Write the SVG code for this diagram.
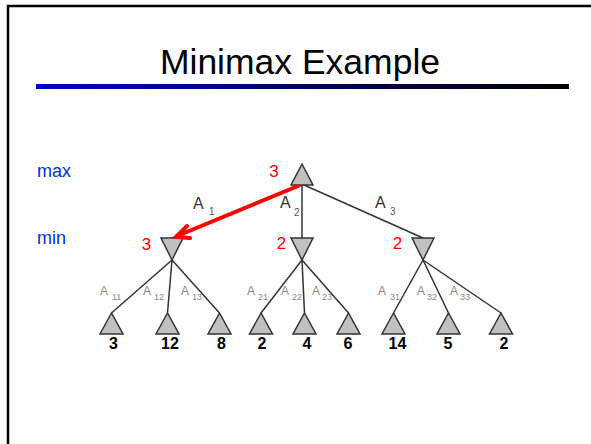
<svg xmlns="http://www.w3.org/2000/svg" width="591" height="444" viewBox="0 0 591 444">
<style>
.tri{fill:#c0c0c0;stroke:#333;stroke-width:1.5;stroke-linejoin:miter}
.edge{stroke:#333;stroke-width:1.5;fill:none}
.lvl{font-family:"Liberation Sans",Arial,sans-serif;font-size:18px;fill:#0033cc}
.red{font-family:"Liberation Sans",Arial,sans-serif;font-size:17px;fill:#ff0000;text-anchor:middle}
.val{font-family:"Liberation Sans",Arial,sans-serif;font-size:16px;font-weight:bold;fill:#000;text-anchor:middle}
.a1{font-family:"Liberation Sans",Arial,sans-serif;font-size:16px;fill:#333}
.s1{font-family:"Liberation Sans",Arial,sans-serif;font-size:10px;fill:#555}
.a2{font-family:"Liberation Sans",Arial,sans-serif;font-size:12px;fill:#888}
.s2{font-family:"Liberation Sans",Arial,sans-serif;font-size:9px;fill:#888}
</style>
<defs>
<linearGradient id="bar" x1="0" y1="0" x2="1" y2="0">
<stop offset="0" stop-color="#0000cc"/>
<stop offset="1" stop-color="#000000"/>
</linearGradient>
</defs>
<rect x="0" y="0" width="591" height="444" fill="#ffffff"/>
<rect x="8" y="6" width="620" height="460" fill="none" stroke="#000" stroke-width="2.5"/>
<text x="300" y="74" font-family="'Liberation Sans',Arial,sans-serif" font-size="35.5" text-anchor="middle" fill="#000">Minimax Example</text>
<rect x="36" y="84" width="533" height="5" fill="url(#bar)"/>
<text class="lvl" x="37" y="177">max</text>
<text class="lvl" x="37" y="244">min</text>
<g id="connectors">
<line class="edge" x1="302" y1="185" x2="172" y2="238"/>
<line class="edge" x1="302" y1="185" x2="302" y2="238"/>
<line class="edge" x1="304" y1="185" x2="423" y2="238"/>
<line class="edge" x1="172" y1="260" x2="111.5" y2="313"/>
<line class="edge" x1="172" y1="260" x2="167.5" y2="313"/>
<line class="edge" x1="172" y1="260" x2="219.5" y2="313"/>
<line class="edge" x1="302" y1="260" x2="261" y2="313"/>
<line class="edge" x1="302" y1="260" x2="304.5" y2="313"/>
<line class="edge" x1="302" y1="260" x2="348.5" y2="313"/>
<line class="edge" x1="423" y1="260" x2="393.5" y2="313"/>
<line class="edge" x1="423" y1="260" x2="448.5" y2="313"/>
<line class="edge" x1="423" y1="260" x2="501" y2="313"/>
</g>
<g id="root"><polygon class="tri" points="302,164 291,185 313,185"/></g>
<g id="min1"><polygon class="tri" points="161,238 183,238 172,260"/></g>
<g id="min2"><polygon class="tri" points="291,238 313,238 302,260"/></g>
<g id="min3"><polygon class="tri" points="412,238 434,238 423,260"/></g>
<g id="leaf1"><polygon class="tri" points="111.5,313 100,334 123,334"/><text class="val" x="113.5" y="349">3</text></g>
<g id="leaf2"><polygon class="tri" points="167.5,313 156,334 179,334"/><text class="val" x="170" y="349">12</text></g>
<g id="leaf3"><polygon class="tri" points="219.5,313 208,334 231,334"/><text class="val" x="221.5" y="349">8</text></g>
<g id="leaf4"><polygon class="tri" points="261,313 249.5,334 272.5,334"/><text class="val" x="262" y="349">2</text></g>
<g id="leaf5"><polygon class="tri" points="304.5,313 293,334 316,334"/><text class="val" x="307" y="349">4</text></g>
<g id="leaf6"><polygon class="tri" points="348.5,313 337,334 360,334"/><text class="val" x="348" y="349">6</text></g>
<g id="leaf7"><polygon class="tri" points="393.5,313 382,334 405,334"/><text class="val" x="397.5" y="349">14</text></g>
<g id="leaf8"><polygon class="tri" points="448.5,313 437,334 460,334"/><text class="val" x="448" y="349">5</text></g>
<g id="leaf9"><polygon class="tri" points="501,313 489.5,334 512.5,334"/><text class="val" x="504" y="349">2</text></g>
<g id="edge-labels">
<text class="a1" x="193" y="209">A</text><text class="s1" x="209" y="215">1</text>
<text class="a1" x="280" y="208">A</text><text class="s1" x="294" y="216">2</text>
<text class="a1" x="375" y="208">A</text><text class="s1" x="390" y="215">3</text>
<text class="a2" x="100" y="295">A</text><text class="s2" x="112" y="300">11</text>
<text class="a2" x="143" y="295">A</text><text class="s2" x="154" y="300">12</text>
<text class="a2" x="181" y="295">A</text><text class="s2" x="192" y="300">13</text>
<text class="a2" x="247" y="295">A</text><text class="s2" x="258" y="300">21</text>
<text class="a2" x="281" y="295">A</text><text class="s2" x="292" y="300">22</text>
<text class="a2" x="312" y="295">A</text><text class="s2" x="322" y="300">23</text>
<text class="a2" x="378" y="295">A</text><text class="s2" x="390" y="300">31</text>
<text class="a2" x="417" y="295">A</text><text class="s2" x="427" y="300">32</text>
<text class="a2" x="450" y="295">A</text><text class="s2" x="460" y="300">33</text>
</g>
<g id="values">
<text class="red" x="274" y="177">3</text>
<text class="red" x="146.5" y="250">3</text>
<text class="red" x="281.5" y="249">2</text>
<text class="red" x="397.5" y="249">2</text>
</g>
<g id="red-arrow" stroke="#ff0000" stroke-width="4" fill="none" stroke-linecap="round" stroke-linejoin="round">
<line x1="298" y1="186" x2="177" y2="236"/>
<polyline points="187,226 176,237 190,238"/>
</g>
</svg>
